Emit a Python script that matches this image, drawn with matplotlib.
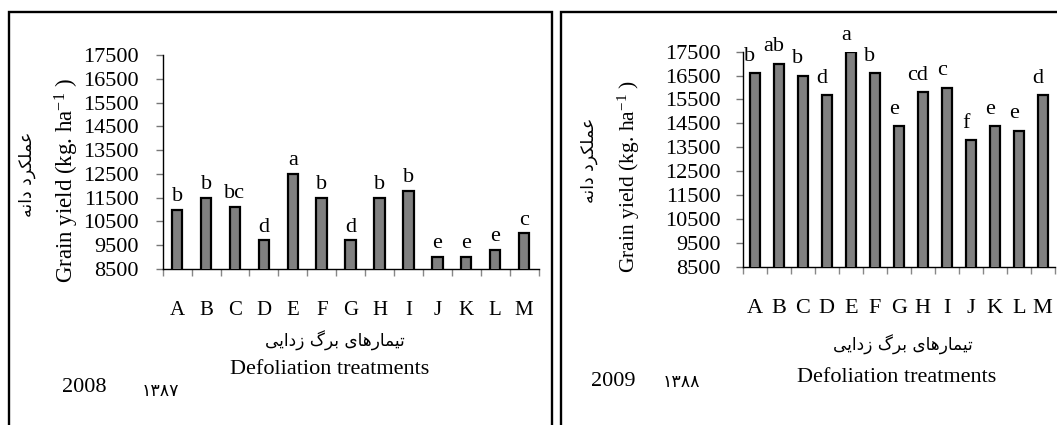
import matplotlib
matplotlib.use('Agg')
import matplotlib.pyplot as plt
from matplotlib.lines import Line2D
import numpy as np

plt.rcParams['font.family'] = ['Liberation Serif', 'DejaVu Sans']
plt.rcParams['mathtext.fontset'] = 'custom'
plt.rcParams['mathtext.rm'] = 'Liberation Serif'
plt.rcParams['mathtext.it'] = 'Liberation Serif:italic'

# ---------------- data ----------------
categories = ['A', 'B', 'C', 'D', 'E', 'F', 'G', 'H', 'I', 'J', 'K', 'L', 'M']
yield_2008 = [11000, 11500, 11100, 9700, 12500, 11500, 9700, 11500, 11800, 9000, 9000, 9300, 10000]
letters_2008 = ['b', 'b', 'bc', 'd', 'a', 'b', 'd', 'b', 'b', 'e', 'e', 'e', 'c']
yield_2009 = [16600, 17000, 16500, 15700, 17500, 16600, 14400, 15800, 16000, 13800, 14400, 14200, 15700]
letters_2009 = ['b', 'ab', 'b', 'd', 'a', 'b', 'e', 'cd', 'c', 'f', 'e', 'e', 'd']
ytick_values = [8500, 9500, 10500, 11500, 12500, 13500, 14500, 15500, 16500, 17500]

ylabel_en = 'Grain yield (kg. ha$^{-1}$ )'
xlabel_en = 'Defoliation treatments'
# Persian labels, shaped (presentation forms) and in visual order
ylabel_fa = '\uFEEA\uFEE7\uFE8D\uFEA9 \uFEA9\uFEAE\uFB91\uFEE0\uFEE4\uFECB'          # عملکرد دانه
xlabel_fa = ('\uFBFD\uFBFE\uFE8D\uFEA9\uFEAF \uFB92\uFEAE\uFE91 '
             '\uFBFC\uFE8E\uFEEB\uFEAD\uFE8E\uFEE4\uFBFF\uFE97')                        # تیمارهای برگ زدایی
year_en = ['2008', '2009']
year_fa = ['\u06F1\u06F3\u06F8\u06F7', '\u06F1\u06F3\u06F8\u06F8']

# ---------------- figure ----------------
W, H = 1057, 425
fig = plt.figure(figsize=(W / 100, H / 100), dpi=100)
fig.patch.set_facecolor('white')


def rect(x0, y_top, x1, y_bot):
    return [x0 / W, 1 - y_bot / H, (x1 - x0) / W, (y_bot - y_top) / H]


def fxy(x, y):
    return x / W, 1 - y / H


FA = ['DejaVu Sans']


def make_panel(axrect, values, letters, barw, xlab_size, xpad, ypad, lab_dx, lab_dy):
    ax = fig.add_axes(axrect)
    x = np.arange(len(categories))
    ax.bar(x, values, width=barw, color='#808080', edgecolor='black', linewidth=1.6, zorder=3)
    ax.set_xlim(-0.5, len(categories) - 0.5)
    ax.set_ylim(ytick_values[0], ytick_values[-1])
    for s in ['top', 'right']:
        ax.spines[s].set_visible(False)
    ax.spines['left'].set_linewidth(1.0)
    ax.spines['bottom'].set_linewidth(1.0)
    ax.set_yticks(ytick_values)
    ax.set_yticklabels([str(v) for v in ytick_values])
    ax.tick_params(axis='y', direction='out', length=5, width=1.0, color='#777777',
                   labelsize=16, pad=ypad)
    ax.set_xticks(x)
    ax.set_xticklabels(categories)
    ax.tick_params(axis='x', which='major', length=0, labelsize=xlab_size, pad=xpad)
    ax.set_xticks(np.arange(-0.5, len(categories), 1.0), minor=True)
    ax.tick_params(axis='x', which='minor', direction='out', length=5, width=1.0, color='#888888')
    for i, (v, t) in enumerate(zip(values, letters)):
        ax.annotate(t, (i, v), xytext=(lab_dx, lab_dy), textcoords='offset points',
                    ha='center', va='center', fontsize=16, annotation_clip=False)
    return ax


ax1 = make_panel(rect(162.7, 55, 538.5, 269), yield_2008, letters_2008, 0.36, 15, 23, 12, 0, 9.5)
ax2 = make_panel(rect(742.7, 51.7, 1054.7, 266.7), yield_2009, letters_2009, 0.43, 16, 23, 11, -3.5, 12)

# left panel texts
fig.text(*fxy(67, 181), ylabel_en, rotation=90, ha='center', va='center', fontsize=16.5)
fig.text(*fxy(27, 174), ylabel_fa, rotation=90, ha='center', va='center', fontsize=12.5,
         family=FA)
fig.text(*fxy(335, 341), xlabel_fa, ha='center', va='center', fontsize=12.2, family=FA)
fig.text(*fxy(330, 370), xlabel_en, ha='center', va='center', fontsize=16)
fig.text(*fxy(84, 388), year_en[0], ha='center', va='center', fontsize=16)
fig.text(*fxy(160, 391), year_fa[0], ha='center', va='center', fontsize=12.5, family=FA)

# right panel texts
fig.text(*fxy(629, 177), ylabel_en, rotation=90, ha='center', va='center', fontsize=15.5)
fig.text(*fxy(589, 160), ylabel_fa, rotation=90, ha='center', va='center', fontsize=12.5,
         family=FA)
fig.text(*fxy(903, 345), xlabel_fa, ha='center', va='center', fontsize=12.2, family=FA)
fig.text(*fxy(897, 377), xlabel_en, ha='center', va='center', fontsize=16)
fig.text(*fxy(613, 382), year_en[1], ha='center', va='center', fontsize=16)
fig.text(*fxy(681, 382), year_fa[1], ha='center', va='center', fontsize=12.5, family=FA)

# panel frames
def frame(xs, ys):
    fx = [x / W for x in xs]
    fy = [1 - y / H for y in ys]
    fig.add_artist(Line2D(fx, fy, transform=fig.transFigure, color='black', linewidth=1.7,
                          solid_joinstyle='miter'))


frame([9, 9, 551.7, 551.7], [430, 12, 12, 430])
frame([561.3, 561.3, 1065], [430, 11.7, 11.7])

fig.savefig('out.png', dpi=100, facecolor='white')
